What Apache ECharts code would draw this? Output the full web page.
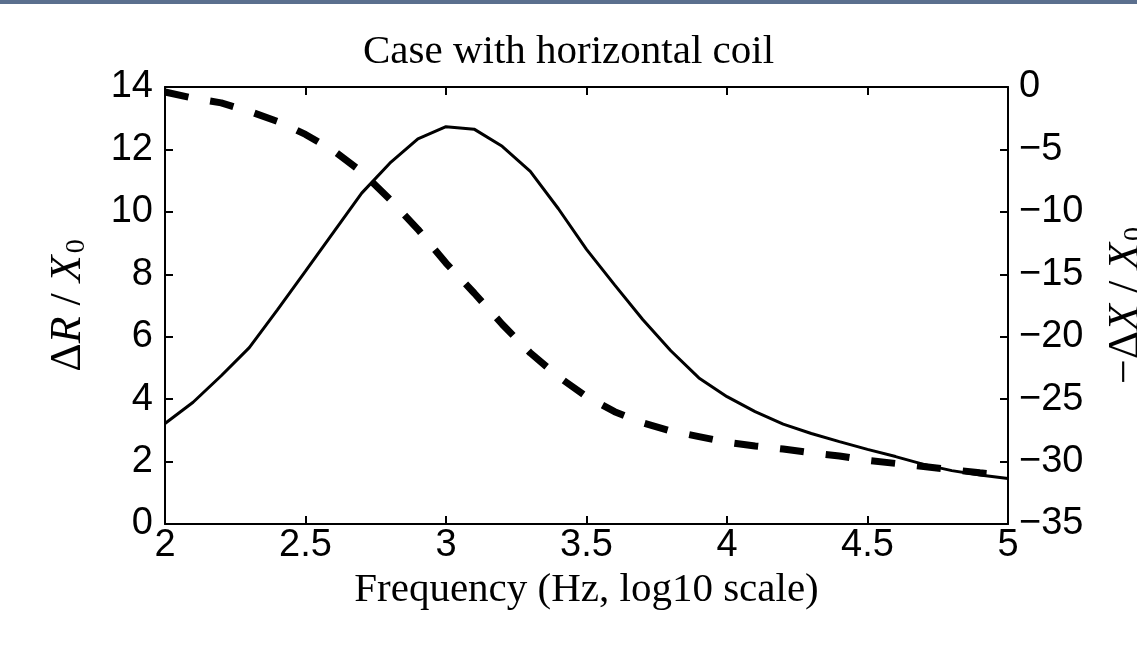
<!DOCTYPE html>
<html lang="en" style="height: 100%">
<head>
  <meta charset="utf-8">
</head>
<body style="height: 100%; margin: 0; background: #fff">
  <div id="container" style="width: 1137px; height: 645px"></div>
  <script type="text/javascript" src="https://fastly.jsdelivr.net/npm/echarts@6.0.0/dist/echarts.min.js"></script>
  <script type="text/javascript">
    // frequency, log10 Hz
    var freq = [2.0, 2.1, 2.2, 2.3, 2.4, 2.5, 2.6, 2.7, 2.8, 2.9,
      3.0, 3.1, 3.2, 3.3, 3.4, 3.5, 3.6, 3.7, 3.8, 3.9,
      4.0, 4.1, 4.2, 4.3, 4.4, 4.5, 4.6, 4.7, 4.8, 4.9, 5.0];
    // delta R / X0 (left axis, solid)
    var deltaR = [3.22, 3.9, 4.75, 5.65, 6.86, 8.1, 9.35, 10.6, 11.56, 12.34,
      12.73, 12.65, 12.1, 11.3, 10.1, 8.8, 7.66, 6.55, 5.55, 4.68,
      4.08, 3.6, 3.2, 2.9, 2.64, 2.39, 2.16, 1.91, 1.71, 1.57, 1.46];
    // -delta X / X0 (right axis, dashed)
    var deltaX = [-0.4, -0.9, -1.27, -1.95, -2.75, -3.8, -5.1, -6.8, -9.0, -11.4,
      -14.1, -16.5, -19.0, -21.3, -23.2, -24.8, -26.0, -26.9, -27.55, -28.0,
      -28.45, -28.75, -29.0, -29.3, -29.55, -29.9, -30.15, -30.4, -30.65, -30.9, -31.1];

    var serif = '"Liberation Serif", "DejaVu Serif", serif';
    var sans = '"Liberation Sans", Arial, sans-serif';

    var dom = document.getElementById('container');
    var myChart = echarts.init(dom, null, { renderer: 'canvas' });

    var axisLine = { show: true, onZero: false, lineStyle: { color: '#000', width: 2 } };
    var tick = { show: true, inside: true, length: 8, lineStyle: { color: '#000', width: 2 } };

    var nameRich = {
      up: { fontFamily: serif, fontSize: 44, color: '#000' },
      it: { fontFamily: serif, fontSize: 44, fontStyle: 'italic', color: '#000' },
      sub: { fontFamily: serif, fontSize: 28, color: '#000', verticalAlign: 'bottom', padding: [18, 0, 0, 2] }
    };

    var option = {
      animation: false,
      backgroundColor: '#fff',
      title: {
        text: 'Case with horizontal coil',
        left: 'center',
        top: 27,
        textStyle: { fontFamily: serif, fontSize: 41, fontWeight: 'normal', color: '#000' }
      },
      grid: { left: 165, right: 129, top: 87, bottom: 121, outerBoundsMode: 'none', containLabel: false },
      xAxis: [
        {
          type: 'value', position: 'bottom', min: 2, max: 5, interval: 0.5,
          axisLine: axisLine, axisTick: tick, splitLine: { show: false },
          axisLabel: { fontFamily: sans, fontSize: 38, color: '#000', margin: 3 },
          name: 'Frequency (Hz, log10 scale)', nameLocation: 'middle', nameGap: 40,
          nameTextStyle: { fontFamily: serif, fontSize: 41, color: '#000' }
        },
        {
          type: 'value', position: 'top', min: 2, max: 5, interval: 0.5,
          axisLine: axisLine, axisTick: tick, splitLine: { show: false },
          axisLabel: { show: false }
        }
      ],
      yAxis: [
        {
          type: 'value', position: 'left', min: 0, max: 14, interval: 2,
          axisLine: axisLine, axisTick: tick, splitLine: { show: false },
          axisLabel: { fontFamily: sans, fontSize: 38, color: '#000', margin: 12 },
          name: '{up|\u0394}{it|R}{up| / }{it|X}{sub|0}', nameLocation: 'middle', nameGap: 74, nameRotate: 90,
          nameTextStyle: { rich: nameRich }
        },
        {
          type: 'value', position: 'right', min: -35, max: 0, interval: 5,
          axisLine: axisLine, axisTick: tick, splitLine: { show: false },
          axisLabel: {
            fontFamily: sans, fontSize: 38, color: '#000', margin: 11,
            formatter: function (v) { return String(v).replace('-', '\u2212'); }
          },
          name: '{up|\u2212\u0394}{it|X}{up| / }{it|X}{sub|0}', nameLocation: 'middle', nameGap: 95, nameRotate: 90,
          nameTextStyle: { rich: nameRich }
        }
      ],
      series: [
        {
          type: 'line', xAxisIndex: 0, yAxisIndex: 0, showSymbol: false, symbol: 'none',
          data: freq.map(function (f, i) { return [f, deltaR[i]]; }),
          lineStyle: { color: '#000', width: 3 }
        },
        {
          type: 'line', xAxisIndex: 0, yAxisIndex: 1, showSymbol: false, symbol: 'none',
          data: freq.map(function (f, i) { return [f, deltaX[i]]; }),
          lineStyle: { color: '#000', width: 7, type: [24, 22], cap: 'butt' }
        }
      ],
      graphic: [
        {
          type: 'rect', left: 0, top: 0, shape: { width: 1137, height: 4 },
          style: { fill: '#5b6f8e' }
        }
      ]
    };

    myChart.setOption(option);
    window.addEventListener('resize', myChart.resize);
  </script>
</body>
</html>
